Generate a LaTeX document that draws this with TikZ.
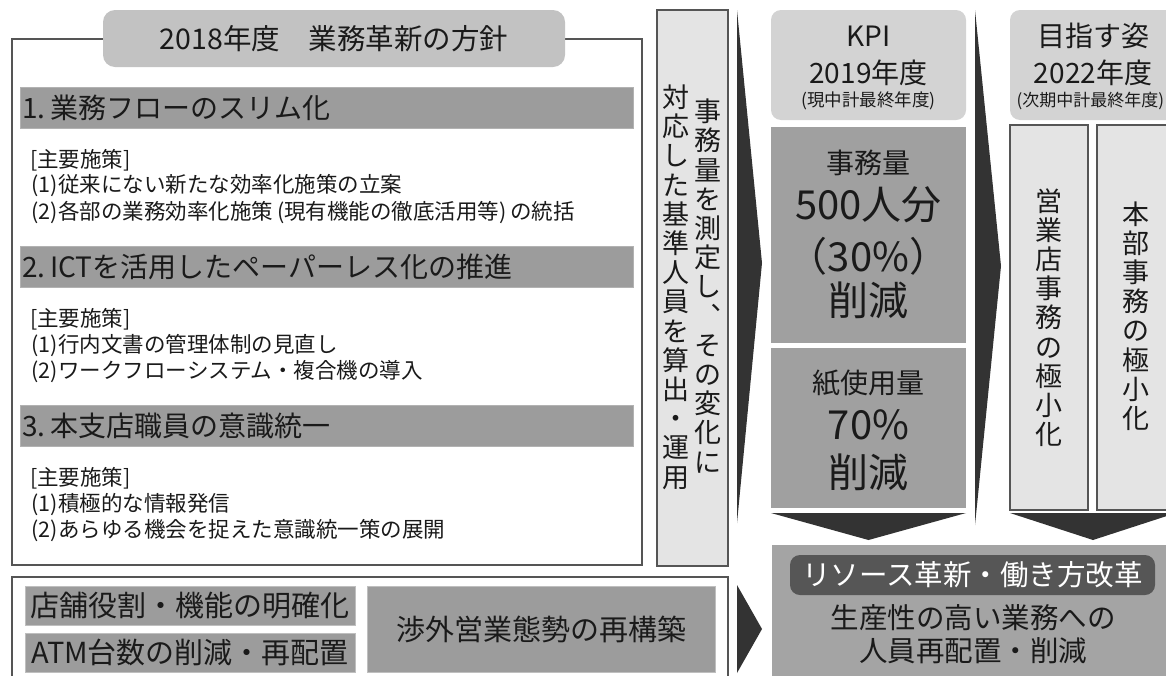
\documentclass[tikz,border=0pt]{standalone}
\usepackage{fontspec}
\setmainfont{Noto Sans CJK JP}
\definecolor{barc}{HTML}{9C9C9C}
\definecolor{titlec}{HTML}{C2C2C2}
\definecolor{hdrc}{HTML}{D3D3D3}
\definecolor{kpic}{HTML}{A0A0A0}
\definecolor{palec}{HTML}{E4E4E4}
\definecolor{framec}{HTML}{555555}
\definecolor{arrowc}{HTML}{333333}
\definecolor{pillc}{HTML}{565656}
\definecolor{botc}{HTML}{A4A4A4}
\definecolor{inkc}{HTML}{1A1A1A}
\newcommand\fsz[2]{\fontsize{#1}{#2}\selectfont}
\begin{document}
\begin{tikzpicture}[x=1pt,y=-1pt,
  every node/.style={inner sep=0pt,outer sep=0pt,text=inkc},
  frm/.style={draw=framec,line width=1.8pt,fill=white,anchor=north west},
  titlebox/.style={fill=titlec,rounded corners=12pt,anchor=north west},
  barbox/.style={fill=barc,draw=black!30,line width=0.6pt,anchor=north west,minimum width=613pt,minimum height=41pt},
  bartext/.style={anchor=west,font=\fsz{28}{32}},
  bodytext/.style={anchor=west,font=\fsz{21.5}{24}},
  hdrbox/.style={fill=hdrc,rounded corners=10pt,anchor=north west},
  kpibox/.style={fill=kpic,anchor=north west},
  palebox/.style={fill=palec,draw=framec,line width=1.3pt,anchor=north west},
  vtext/.style={align=center,font=\fsz{27}{29.2}},
  greybox/.style={fill=barc,draw=black!25,line width=0.6pt,anchor=north west},
  arrowfill/.style={fill=arrowc}]
\useasboundingbox (0,0) rectangle (1166,675);
\clip (0,0) rectangle (1166,675);
\fill[white] (0,0) rectangle (1166,675);

% ---- main policy box ----
\node[frm,minimum width=630pt,minimum height=526pt] (main) at (12,39) {};
\node[titlebox,minimum width=462pt,minimum height=57pt] (title) at (103,10) {};
\node[font=\fsz{28.5}{32}] (titletxt) at (title.center) {2018年度　業務革新の方針};

\node[barbox] (bar1) at (20,87) {};
\node[bartext] (bar1t) at ([xshift=2pt]bar1.west) {1.\hspace{5pt}業務フローのスリム化};
\node[bodytext] (s1a) at (30,160) {[主要施策]};
\node[bodytext] (s1b) at (31,186) {(1)\hspace{1pt}従来にない新たな効率化施策の立案};
\node[bodytext] (s1c) at (31,212) {(2)\hspace{1pt}各部の業務効率化施策\,(現有機能の徹底活用等)\,の統括};

\node[barbox] (bar2) at (20,246) {};
\node[bartext] (bar2t) at ([xshift=2pt]bar2.west) {2.\hspace{5pt}ICTを活用したペーパーレス化の推進};
\node[bodytext] (s2a) at (30,319) {[主要施策]};
\node[bodytext] (s2b) at (31,346) {(1)\hspace{1pt}行内文書の管理体制の見直し};
\node[bodytext] (s2c) at (31,372) {(2)\hspace{1pt}ワークフローシステム・複合機の導入};

\node[barbox] (bar3) at (20,405) {};
\node[bartext] (bar3t) at ([xshift=2pt]bar3.west) {3.\hspace{5pt}本支店職員の意識統一};
\node[bodytext] (s3a) at (30,478) {[主要施策]};
\node[bodytext] (s3b) at (31,505) {(1)\hspace{1pt}積極的な情報発信};
\node[bodytext] (s3c) at (31,531) {(2)\hspace{1pt}あらゆる機会を捉えた意識統一策の展開};

% ---- vertical text box ----
\node[palebox,minimum width=71pt,minimum height=556pt] (vbox) at (657,10) {};
\node[vtext] (vright) at (708,286) {事\\務\\量\\を\\測\\定\\し\\︑\\そ\\の\\変\\化\\に};
\node[vtext] (vleft) at (676,287) {対\\応\\し\\た\\基\\準\\人\\員\\を\\算\\出\\・\\運\\用};

% ---- bottom left box ----
\node[frm,minimum width=716pt,minimum height=120pt] (lower) at (12,577) {};
\node[greybox,minimum width=330pt,minimum height=39pt,font=\fsz{29}{32}] (shop) at (25,586) {店舗役割・機能の明確化};
\node[greybox,minimum width=330pt,minimum height=39pt,font=\fsz{29}{32}] (atm) at (25,633) {ATM台数の削減・再配置};
\node[greybox,minimum width=348pt,minimum height=86pt,font=\fsz{29}{32}] (sales) at (367,586) {渉外営業態勢の再構築};

% ---- arrows to the right ----
\coordinate (a1t) at (737,10); \coordinate (a1p) at (762,263); \coordinate (a1b) at (737,523);
\fill[arrowfill] (a1t) -- (a1p) -- (a1b) -- cycle;
\coordinate (a2t) at (975,10); \coordinate (a2p) at (1001,266); \coordinate (a2b) at (975,525);
\fill[arrowfill] (a2t) -- (a2p) -- (a2b) -- cycle;
\coordinate (a3t) at (737,585); \coordinate (a3p) at (762,629); \coordinate (a3b) at (737,673);
\fill[arrowfill] (a3t) -- (a3p) -- (a3b) -- cycle;

% ---- KPI column ----
\node[hdrbox,minimum width=195pt,minimum height=110pt] (kpih) at (771,10) {};
\node[font=\fsz{28}{32}] (kpi1) at (868.5,36) {KPI};
\node[font=\fsz{28}{32}] (kpi2) at (868.5,73) {2019年度};
\node[font=\fsz{17.5}{20}] (kpi3) at (868.5,101) {(現中計最終年度)};

\node[kpibox,minimum width=195pt,minimum height=216pt] (kpib1) at (771,127) {};
\node[font=\fsz{28}{32}] (k1a) at (868.5,163) {事務量};
\node[font=\fsz{40}{44}] (k1b) at (868.5,205) {500人分};
\node[font=\fsz{40}{44}] (k1c) at (868.5,256) {（30\%）};
\node[font=\fsz{40}{44}] (k1d) at (868.5,300) {削減};

\node[kpibox,minimum width=195pt,minimum height=160pt] (kpib2) at (771,348) {};
\node[font=\fsz{28}{32}] (k2a) at (868.5,383) {紙使用量};
\node[font=\fsz{40}{44}] (k2b) at (868.5,425) {70\%};
\node[font=\fsz{40}{44}] (k2c) at (868.5,472) {削減};

\coordinate (c1l) at (771,513); \coordinate (c1r) at (966,513); \coordinate (c1p) at (868.5,540);
\fill[arrowfill] (c1l) -- (c1r) -- (c1p) -- cycle;

% ---- target column ----
\node[hdrbox,minimum width=170pt,minimum height=110pt] (goalh) at (1010,10) {};
\node[font=\fsz{28}{32}] (g1) at (1093,36) {目指す姿};
\node[font=\fsz{28}{32}] (g2) at (1093,73) {2022年度};
\node[font=\fsz{17}{20},anchor=east] (g3) at (1164,101) {(次期中計最終年度)};

\node[palebox,minimum width=78pt,minimum height=385pt] (gb1) at (1010,125) {};
\node[vtext] (gb1t) at (gb1.center) {営\\業\\店\\事\\務\\の\\極\\小\\化};
\node[palebox,minimum width=85pt,minimum height=385pt] (gb2) at (1097,125) {};
\node[vtext] (gb2t) at (1136,316) {本\\部\\事\\務\\の\\極\\小\\化};

\coordinate (c2l) at (1010,513); \coordinate (c2r) at (1176,513); \coordinate (c2p) at (1093,540);
\fill[arrowfill] (c2l) -- (c2r) -- (c2p) -- cycle;

% ---- bottom right result box ----
\node[fill=botc,anchor=north west,minimum width=400pt,minimum height=140pt] (result) at (772,545) {};
\node[fill=pillc,rounded corners=10pt,anchor=north west,minimum width=365pt,minimum height=40pt] (pill) at (790,555) {};
\node[font=\fsz{28.5}{32},text=white] (pillt) at (pill.center) {リソース革新・働き方改革};
\node[font=\fsz{28.5}{32}] (r1) at (973,618) {生産性の高い業務への};
\node[font=\fsz{28.5}{32}] (r2) at (973,651) {人員再配置・削減};
\end{tikzpicture}
\end{document}
